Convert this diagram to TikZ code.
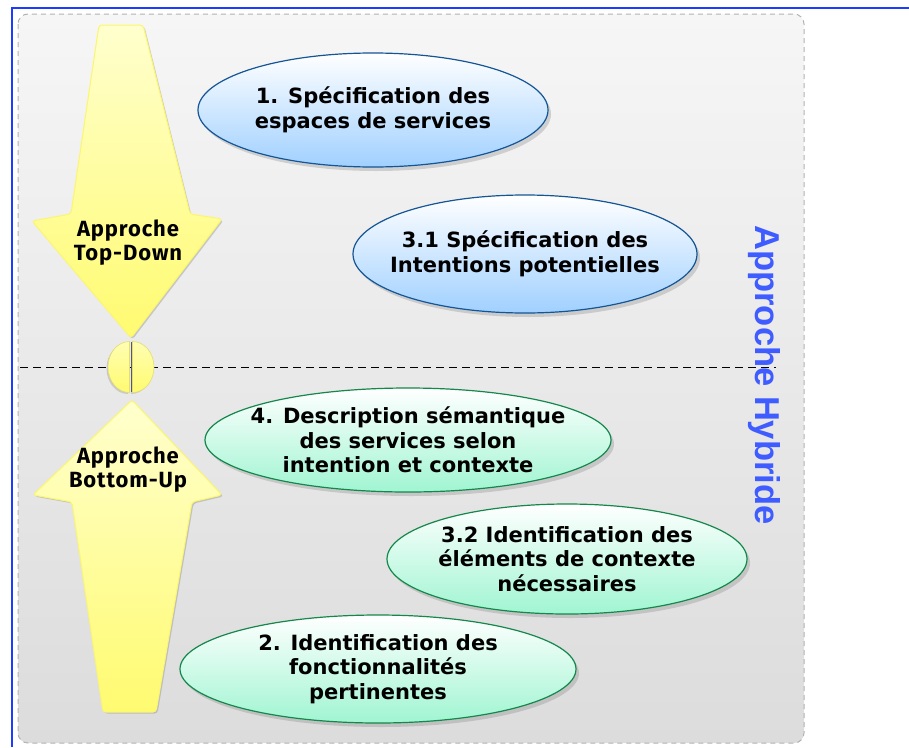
\documentclass[tikz,border=0pt]{standalone}
\usepackage{fontspec}
\setmainfont{DejaVu Sans}
\newfontfamily\arrowfont{Fira Sans}[LetterSpace=4]
\newfontfamily\hybfont{Liberation Sans}
\usepackage{xcolor}
\usetikzlibrary{shapes.geometric,shadows,positioning}

\definecolor{frameblue}{RGB}{30,60,255}
\definecolor{hybblue}{RGB}{62,92,255}
\definecolor{bgtop}{RGB}{246,246,246}
\definecolor{bgbot}{RGB}{220,220,220}
\definecolor{yeltop}{RGB}{255,255,206}
\definecolor{yelbot}{RGB}{255,251,112}
\definecolor{yeledge}{RGB}{252,246,110}
\definecolor{specedge}{RGB}{20,85,150}
\definecolor{specbot}{RGB}{160,208,255}
\definecolor{identedge}{RGB}{20,135,75}
\definecolor{identbot}{RGB}{160,245,210}

\begin{document}
\begin{tikzpicture}[
    x=1pt, y=-1pt,
    spec/.style={ellipse, draw=specedge, line width=1.2pt,
                 top color=white, bottom color=specbot,
                 inner xsep=-60pt, inner ysep=-20pt, align=center,
                 font=\fontsize{21}{24.5}\selectfont\bfseries,
                 drop shadow={shadow xshift=3pt, shadow yshift=-4pt, opacity=0.3}},
    ident/.style={spec, draw=identedge, top color=white, bottom color=identbot},
    bigarrow/.style={rounded corners=3pt, draw=yeledge, line width=1pt,
                 top color=yeltop, bottom color=yelbot,
                 drop shadow={shadow xshift=1.5pt, shadow yshift=-1.5pt, opacity=0.35}},
    pillhalf/.style={draw=yeledge!80!gray, line width=0.6pt,
                 top color=yeltop!70!yelbot, bottom color=yelbot,
                 drop shadow={shadow xshift=-1.5pt, shadow yshift=-1.5pt, opacity=0.3}},
    arrowlabel/.style={font=\arrowfont\fontsize{22}{24}\selectfont\bfseries,
                 align=center, inner sep=0pt},
    hybrid/.style={rotate=-90, text=hybblue, inner sep=0pt,
                 font=\hybfont\fontsize{34.5}{40}\selectfont\bfseries},
    separator/.style={draw=black, line width=1pt, dash pattern=on 8pt off 5pt},
  ]
    \useasboundingbox (0,0) rectangle (909,747);

    \draw[rounded corners=10pt, draw=gray!60, line width=1pt, dash pattern=on 5pt off 4pt,
          top color=bgtop, bottom color=bgbot] (18,14) rectangle (804,743);
    \draw[frameblue, line width=2pt] (12,747) -- (12,8) -- (909,8);

    \coordinate (sepL) at (20,367);
    \coordinate (sepR) at (776,367);
    \draw[separator] (sepL) -- (sepR);

    % fleches jaunes
    \path[bigarrow] (99,25) -- (143,25) -- (190,214) -- (222,219) -- (131,338)
                    -- (32,221) -- (71,214) -- cycle;
    \path[bigarrow] (132,400) -- (222,495) -- (192,502) -- (156,712) -- (103,712)
                    -- (72,502) -- (33,495) -- cycle;

    \path[pillhalf] (129.5,392.5) arc[start angle=90, end angle=270, x radius=21.5, y radius=25.5] -- cycle;
    \path[pillhalf] (132.5,341.5) arc[start angle=270, end angle=450, x radius=21.5, y radius=25.5] -- cycle;
    \draw[gray!70!black, line width=0.9pt] (131,342) -- (131,392);

    \node[arrowlabel] (tdlabel) at (128,243) {Approche\\Top-Down};
    \node[arrowlabel] (bulabel) at (128,470) {Approche\\Bottom-Up};

    \node[spec, minimum width=350pt, minimum height=114pt] (espaces) at (373,110)
        {1. Spécification des\\espaces de services};
    \node[spec, minimum width=344pt, minimum height=118pt] (intentions) at (525,254)
        {3.1 Spécification des\\Intentions potentielles};
    \node[ident, minimum width=406pt, minimum height=104pt] (description) at (408,440)
        {4. Description sémantique\\des services selon\\intention et contexte};
    \node[ident, minimum width=360pt, minimum height=110pt] (contexte) at (567,559)
        {3.2 Identification des\\éléments de contexte\\nécessaires};
    \node[ident, minimum width=396pt, minimum height=108pt] (fonctions) at (378,669)
        {2. Identification des\\fonctionnalités\\pertinentes};

    \node[hybrid] (hyb) at (764,375) {Approche Hybride};
\end{tikzpicture}
\end{document}
